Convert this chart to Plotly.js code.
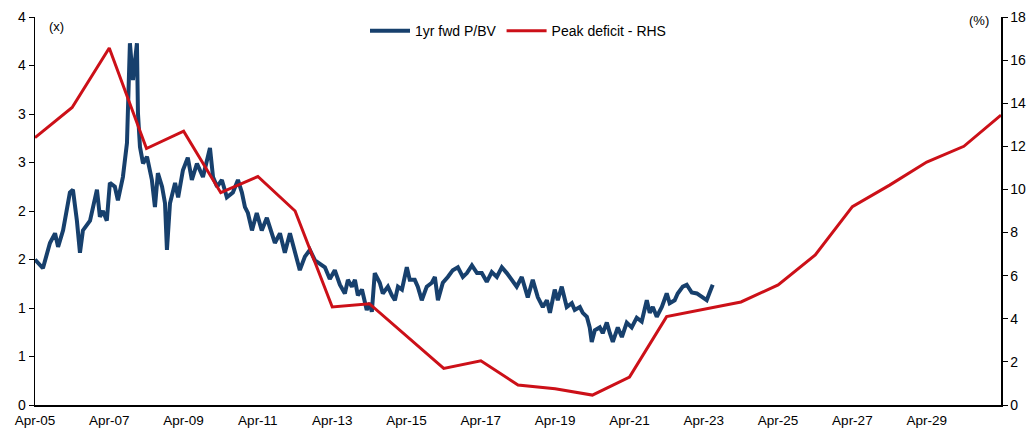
<!DOCTYPE html>
<html>
<head>
<meta charset="utf-8">
<script src="https://cdn.plot.ly/plotly-3.0.1.min.js"></script>
<style>
html,body{margin:0;padding:0;background:#fff;}
#chart{width:1035px;height:432px;}
</style>
</head>
<body>
<div id="chart"></div>
<script>
// 1yr fwd P/BV (x), left axis
const pbvDates = [
'2005-04-01','2005-06-18','2005-08-26','2005-10-15','2005-11-14','2006-01-02','2006-03-10','2006-04-09','2006-05-18','2006-06-17',
'2006-07-16','2006-09-24','2006-12-01','2006-12-30','2007-01-29','2007-03-08','2007-04-07','2007-05-26','2007-06-25','2007-08-13',
'2007-09-22','2007-10-01','2007-10-21','2007-11-20','2007-12-29','2008-01-08','2008-01-28','2008-02-27','2008-04-06','2008-05-24',
'2008-06-23','2008-07-22','2008-09-01','2008-09-30','2008-10-19','2008-11-18','2009-01-07','2009-02-06','2009-03-25','2009-05-12',
'2009-06-21','2009-08-10','2009-10-08','2009-12-16','2010-01-15','2010-02-24','2010-04-12','2010-05-31','2010-07-29','2010-09-17',
'2010-10-26','2010-11-25','2010-12-24','2011-02-02','2011-03-21','2011-05-09','2011-06-28','2011-08-16','2011-09-15','2011-11-04',
'2011-12-22','2012-02-10','2012-03-29','2012-05-17','2012-07-06','2012-08-24','2012-10-13','2012-12-01','2013-01-19','2013-03-08',
'2013-04-26','2013-06-15','2013-08-03','2013-09-02','2013-10-11','2013-11-10','2013-12-09','2014-01-18','2014-03-06','2014-04-05',
'2014-04-25','2014-05-24','2014-07-12','2014-08-11','2014-09-30','2014-11-08','2014-12-08','2015-01-07','2015-02-15','2015-04-04',
'2015-05-03','2015-06-21','2015-07-21','2015-08-29','2015-10-17','2015-12-06','2016-01-05','2016-02-04','2016-03-23','2016-05-11',
'2016-06-29','2016-08-18','2016-10-06','2016-11-15','2017-01-03','2017-02-22','2017-04-10','2017-05-29','2017-07-17','2017-09-05',
'2017-10-24','2017-12-12','2018-02-01','2018-03-19','2018-05-08','2018-06-07','2018-07-06','2018-08-24','2018-10-13','2018-12-01',
'2019-01-10','2019-02-09','2019-03-28','2019-04-27','2019-06-05','2019-07-24','2019-09-12','2019-10-11','2019-11-30','2019-12-29',
'2020-02-07','2020-03-06','2020-03-26','2020-04-25','2020-06-13','2020-07-12','2020-08-21','2020-09-20','2020-10-19','2020-12-07',
'2021-01-16','2021-03-05','2021-04-23','2021-06-11','2021-07-30','2021-09-18','2021-10-17','2021-11-16','2021-12-25','2022-02-13',
'2022-04-02','2022-05-01','2022-06-19','2022-07-19','2022-09-07','2022-10-16','2022-12-04','2023-01-23','2023-03-11','2023-04-30',
'2023-05-29','2023-06-28'
];
const pbvValues = [
1.50,1.41,1.67,1.77,1.63,1.80,2.19,2.22,1.90,1.57,
1.80,1.90,2.22,1.94,2.00,1.90,2.29,2.25,2.11,2.35,
2.70,3.07,3.73,3.35,3.73,3.01,2.66,2.49,2.56,2.32,
2.04,2.39,2.25,2.08,1.60,2.08,2.29,2.14,2.42,2.55,
2.32,2.49,2.35,2.65,2.35,2.25,2.32,2.14,2.19,2.32,
2.19,2.04,1.98,1.80,1.98,1.80,1.93,1.77,1.67,1.77,
1.57,1.77,1.57,1.39,1.53,1.60,1.49,1.46,1.42,1.30,
1.39,1.24,1.15,1.29,1.22,1.29,1.13,1.19,0.98,1.05,
0.96,1.36,1.26,1.15,1.22,1.13,1.08,1.22,1.19,1.42,
1.29,1.29,1.22,1.08,1.22,1.26,1.32,1.08,1.26,1.32,
1.39,1.42,1.32,1.36,1.44,1.36,1.36,1.27,1.37,1.32,
1.42,1.36,1.29,1.22,1.32,1.22,1.11,1.29,1.11,1.01,
1.08,0.95,1.19,1.08,1.22,1.01,1.05,0.98,1.01,0.95,
0.91,0.80,0.65,0.77,0.80,0.74,0.85,0.74,0.65,0.80,
0.70,0.85,0.80,0.90,0.86,1.08,0.95,1.01,0.91,1.01,
1.15,1.05,1.08,1.15,1.22,1.24,1.16,1.15,1.11,1.08,
1.16,1.24
];

// Peak deficit (%), right axis
const deficitDates = [
'2005-04-01','2006-04-01','2007-04-01','2008-04-01','2009-04-01','2010-04-01','2011-04-01','2012-04-01','2013-04-01','2014-04-01',
'2016-04-01','2017-04-01','2018-04-01','2019-04-01','2020-04-01','2021-04-01','2022-04-01','2023-04-01','2024-04-01','2025-04-01',
'2026-04-01','2027-04-01','2028-04-01','2029-04-01','2030-04-01','2031-04-01'
];
const deficitValues = [
12.4,13.8,16.56,11.9,12.7,9.85,10.6,9.0,4.55,4.7,
1.7,2.05,0.93,0.75,0.46,1.3,4.1,4.45,4.78,5.57,
6.96,9.2,10.2,11.27,12.0,13.45
];

const xTickVals = ['2005-04-01','2007-04-01','2009-04-01','2011-04-01','2013-04-01','2015-04-01','2017-04-01','2019-04-01','2021-04-01','2023-04-01','2025-04-01','2027-04-01','2029-04-01'];
const xTickLabels = ['Apr-05','Apr-07','Apr-09','Apr-11','Apr-13','Apr-15','Apr-17','Apr-19','Apr-21','Apr-23','Apr-25','Apr-27','Apr-29'];
const yTickVals = [0,0.5,1,1.5,2,2.5,3,3.5,4];
const yTickLabels = ['0','1','1','2','2','3','3','4','4'];
const y2TickVals = [0,2,4,6,8,10,12,14,16,18];

const FONT = 'Liberation Sans, Arial, sans-serif';

const traces = [
  {
    x: pbvDates, y: pbvValues, type: 'scatter', mode: 'lines',
    name: '1yr fwd P/BV', yaxis: 'y',
    line: {color: '#17406d', width: 4}
  },
  {
    x: deficitDates, y: deficitValues, type: 'scatter', mode: 'lines',
    name: 'Peak deficit - RHS', yaxis: 'y2',
    line: {color: '#cc1018', width: 3}
  }
];

const layout = {
  width: 1035, height: 432,
  margin: {l: 35, r: 34, t: 17, b: 27, pad: 0},
  paper_bgcolor: '#ffffff', plot_bgcolor: '#ffffff',
  font: {family: FONT, size: 13, color: '#000'},
  showlegend: true,
  legend: {
    orientation: 'h', x: 0.5, xanchor: 'center', y: 1.005, yanchor: 'top',
    font: {family: FONT, size: 14, color: '#000'},
    bgcolor: 'rgba(0,0,0,0)', itemwidth: 40
  },
  xaxis: {
    type: 'date', range: ['2005-04-01', '2031-04-01'],
    tickmode: 'array', tickvals: xTickVals, ticktext: xTickLabels,
    ticks: '', showgrid: false, zeroline: false,
    showline: true, linecolor: '#000', linewidth: 1.5,
    ticklabelstandoff: 2,
    tickfont: {family: FONT, size: 13.5, color: '#000'}
  },
  yaxis: {
    range: [0, 4], tickmode: 'array', tickvals: yTickVals, ticktext: yTickLabels,
    ticks: 'outside', ticklen: 5, tickcolor: '#000', tickwidth: 1,
    showgrid: false, zeroline: false,
    showline: true, linecolor: '#000', linewidth: 1.5,
    tickfont: {family: FONT, size: 14, color: '#000'}
  },
  yaxis2: {
    overlaying: 'y', side: 'right', range: [0, 18],
    tickmode: 'array', tickvals: y2TickVals,
    ticks: 'outside', ticklen: 5, tickcolor: '#000', tickwidth: 1,
    showgrid: false, zeroline: false,
    showline: true, linecolor: '#000', linewidth: 1.5,
    tickfont: {family: FONT, size: 14, color: '#000'}
  },
  annotations: [
    {text: '(x)', xref: 'paper', yref: 'paper', x: 0.012, y: 0.975, xanchor: 'left', yanchor: 'middle',
     showarrow: false, font: {family: FONT, size: 13, color: '#000'}},
    {text: '(%)', xref: 'paper', yref: 'paper', x: 0.99, y: 0.99, xanchor: 'right', yanchor: 'middle',
     showarrow: false, font: {family: FONT, size: 13, color: '#000'}}
  ]
};

Plotly.newPlot('chart', traces, layout, {displayModeBar: false, staticPlot: true});
</script>
</body>
</html>
